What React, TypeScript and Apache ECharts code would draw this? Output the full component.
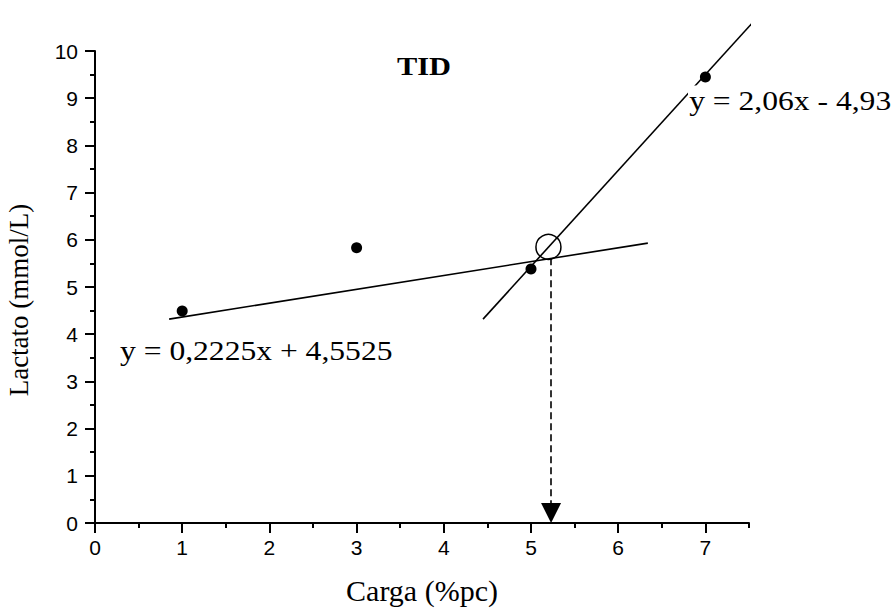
import React, { useEffect, useRef } from "react";
import * as echarts from "echarts";

// ---- data ----
const cargaValues = [1, 3, 5, 7];
const lactatoValues = [4.49, 5.83, 5.38, 9.45];
const lowFitLine = [
  [0.85, 4.32],
  [6.34, 5.93],
];
const highFitLine = [
  [4.45, 4.32],
  [7.61, 10.74],
];
const thresholdPoint = [5.2, 5.85];
const arrowX = 5.23;
const arrowFromY = 5.61;
const arrowToY = 0;
const xMajorTicks = [0, 1, 2, 3, 4, 5, 6, 7];
const xMinorTicks = [0.5, 1.5, 2.5, 3.5, 4.5, 5.5, 6.5, 7.5];
const yMin = 0;
const yMax = 10;
const xMin = 0;
const xMax = 7.5;
const chartTitle = "TID";
const lowEquation = "y = 0,2225x + 4,5525";
const highEquation = "y = 2,06x - 4,93";
const xName = "Carga (%pc)";
const yName = "Lactato (mmol/L)";

const SERIF = "'Liberation Serif', 'Times New Roman', serif";
const SANS = "'Liberation Sans', Arial, sans-serif";

export default function App() {
  const ref = useRef<HTMLDivElement>(null);
  useEffect(() => {
    if (!ref.current) return;
    const chart = echarts.init(ref.current, undefined, { renderer: "svg" });
    const gridRect = {
      left: 95,
      top: 51,
      width: 654,
      height: 472,
      containLabel: false,
      outerBoundsMode: "none",
    };
    const scatterData = cargaValues.map((c, i) => [c, lactatoValues[i]]);
    chart.setOption({
      animation: false,
      backgroundColor: "#fff",
      grid: [{ ...gridRect }, { ...gridRect }],
      xAxis: [
        {
          type: "value",
          gridIndex: 0,
          min: xMin,
          max: xMax,
          interval: 1,
          name: xName,
          nameLocation: "middle",
          nameGap: 52,
          nameTextStyle: { fontFamily: SERIF, fontSize: 30, color: "#000" },
          axisLine: { show: true, lineStyle: { color: "#000", width: 2 } },
          axisTick: {
            show: true,
            inside: false,
            length: 10,
            customValues: xMajorTicks,
            lineStyle: { color: "#000", width: 2 },
          },
          axisLabel: {
            customValues: xMajorTicks,
            fontFamily: SANS,
            fontSize: 21,
            color: "#000",
            margin: 14,
            formatter: (v: number) => (Number.isInteger(v) ? String(v) : ""),
          },
          splitLine: { show: false },
        },
        {
          type: "value",
          gridIndex: 1,
          min: xMin,
          max: xMax,
          interval: 0.5,
          axisLine: { show: false },
          axisTick: {
            show: true,
            inside: false,
            length: 5,
            customValues: xMinorTicks,
            lineStyle: { color: "#000", width: 2 },
          },
          axisLabel: { show: false },
          splitLine: { show: false },
        },
      ],
      yAxis: [
        {
          type: "value",
          gridIndex: 0,
          min: yMin,
          max: yMax,
          interval: 1,
          name: yName,
          nameLocation: "middle",
          nameGap: 63,
          nameTextStyle: {
            fontFamily: SERIF,
            fontSize: 27,
            color: "#000",
            padding: [0, 26, 0, 0],
          },
          axisLine: { show: true, lineStyle: { color: "#000", width: 2 } },
          axisTick: {
            show: true,
            inside: false,
            length: 10,
            lineStyle: { color: "#000", width: 2 },
          },
          minorTick: {
            show: true,
            splitNumber: 2,
            length: 5,
            lineStyle: { color: "#000", width: 2 },
          },
          axisLabel: {
            fontFamily: SANS,
            fontSize: 21,
            color: "#000",
            margin: 17,
          },
          splitLine: { show: false },
        },
        {
          type: "value",
          gridIndex: 1,
          min: yMin,
          max: yMax,
          show: false,
        },
      ],
      series: [
        {
          type: "line",
          xAxisIndex: 0,
          yAxisIndex: 0,
          data: lowFitLine,
          showSymbol: false,
          symbol: "none",
          clip: false,
          lineStyle: { color: "#000", width: 1.6 },
          z: 2,
        },
        {
          type: "line",
          xAxisIndex: 0,
          yAxisIndex: 0,
          data: highFitLine,
          showSymbol: false,
          symbol: "none",
          clip: false,
          lineStyle: { color: "#000", width: 1.6 },
          z: 2,
        },
        {
          type: "scatter",
          xAxisIndex: 0,
          yAxisIndex: 0,
          data: scatterData,
          symbol: "circle",
          symbolSize: 11,
          itemStyle: { color: "#000", opacity: 1 },
          clip: false,
          z: 3,
        },
        {
          type: "scatter",
          xAxisIndex: 0,
          yAxisIndex: 0,
          data: [thresholdPoint],
          symbol: "circle",
          symbolSize: 25,
          itemStyle: {
            color: "none",
            borderColor: "#000",
            borderWidth: 1.5,
            opacity: 1,
          },
          clip: false,
          z: 4,
          markLine: {
            silent: true,
            symbol: ["none", "triangle"],
            symbolSize: [20, 20],
            symbolOffset: [0, [0, 10]],
            label: { show: false },
            lineStyle: { color: "#000", width: 1.6, type: [7, 4], opacity: 1 },
            itemStyle: { color: "#000" },
            data: [
              [
                { coord: [arrowX, arrowFromY] },
                { coord: [arrowX, arrowToY] },
              ],
            ],
          },
        },
      ],
      graphic: [
        {
          type: "text",
          x: 424,
          y: 66,
          scaleX: 1.17,
          z: 100,
          style: {
            text: chartTitle,
            fontFamily: SERIF,
            fontWeight: "bold",
            fontSize: 26,
            fill: "#000",
            align: "center",
            verticalAlign: "middle",
          },
        },
        {
          type: "text",
          x: 120,
          y: 351,
          scaleX: 1.17,
          z: 100,
          style: {
            text: lowEquation,
            fontFamily: SERIF,
            fontSize: 27,
            fill: "#000",
            align: "left",
            verticalAlign: "middle",
          },
        },
        {
          type: "text",
          x: 688,
          y: 101,
          scaleX: 1.17,
          z: 100,
          style: {
            text: highEquation,
            fontFamily: SERIF,
            fontSize: 27,
            fill: "#000",
            align: "left",
            verticalAlign: "middle",
            backgroundColor: "#fff",
            padding: [3, 1, 1, 1],
          },
        },
      ],
    });
    return () => chart.dispose();
  }, []);
  return (
    <div
      ref={ref}
      style={{ position: "absolute", left: 0, top: 0, width: 894, height: 610 }}
    />
  );
}
